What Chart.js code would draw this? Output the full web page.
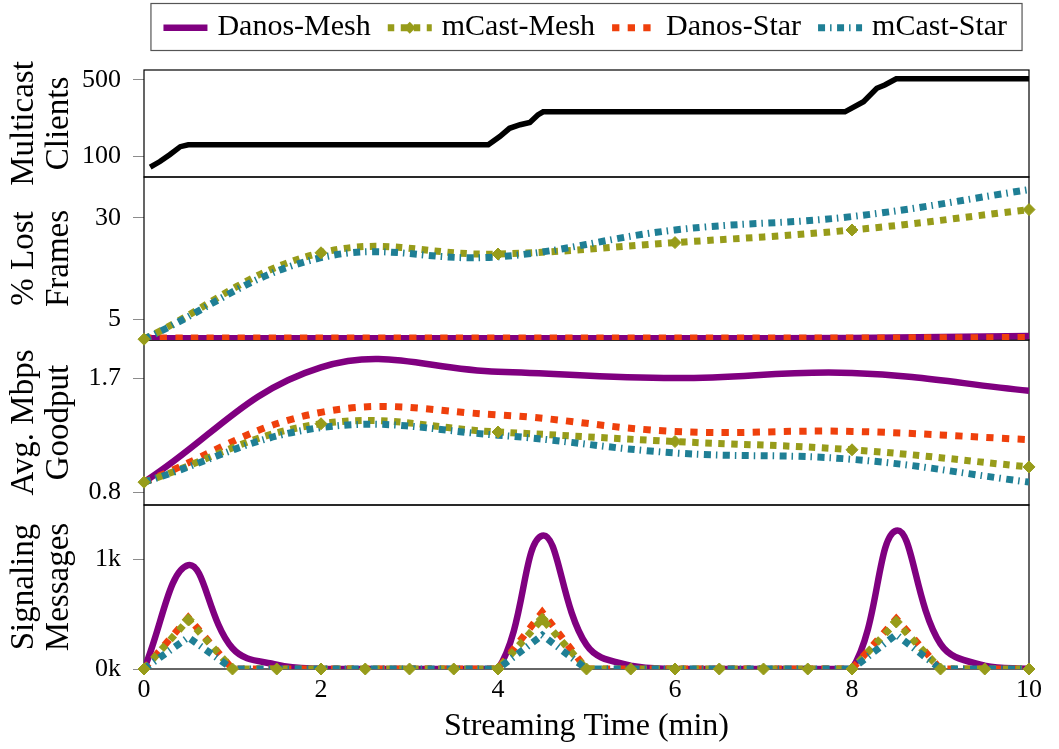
<!DOCTYPE html>
<html>
<head>
<meta charset="utf-8">
<script src="https://cdn.jsdelivr.net/npm/chart.js@4.4.0/dist/chart.umd.min.js"></script>
<style>
  html, body { margin: 0; padding: 0; background: #fff; }
</style>
</head>
<body>
<canvas id="chart" width="1059" height="749"></canvas>
<script>
// ---- data ----
var seriesNames = ["Danos-Mesh", "mCast-Mesh", "Danos-Star", "mCast-Star"];

// multicast clients (top panel, log axis)
var clientTimes  = [0.07, 0.18, 0.29, 0.41, 0.5, 3.89, 4.02, 4.13, 4.25, 4.36, 4.45, 4.51, 7.92, 8.13, 8.28, 8.37, 8.5, 10];
var clientCounts = [80, 90, 104, 123, 128, 128, 152, 181, 195, 205, 240, 256, 256, 317, 420, 450, 512, 512];

// % lost frames and goodput, sampled every 2 min
var sampleTimes = [0, 2, 4, 6, 8, 10];
var lossDanosMesh = [0.45, 0.45, 0.45, 0.45, 0.5, 1.0];
var lossMcastMesh = [0.2, 21.4, 21.1, 23.9, 27.0, 32.0];
var lossDanosStar = [0.5, 0.5, 0.5, 0.5, 0.5, 0.6];
var lossMcastStar = [0.2, 20.2, 20.4, 27.0, 30.3, 36.9];

var goodDanosMesh = [0.88, 1.785, 1.75, 1.70, 1.74, 1.60];
var goodMcastMesh = [0.88, 1.34, 1.275, 1.20, 1.135, 1.00];
var goodDanosStar = [0.88, 1.43, 1.41, 1.28, 1.28, 1.215];
var goodMcastStar = [0.88, 1.31, 1.25, 1.11, 1.06, 0.88];

// signaling messages, sampled every 30 s
var signalTimes = [0, 0.5, 1, 1.5, 2, 2.5, 3, 3.5, 4, 4.5, 5, 5.5, 6, 6.5, 7, 7.5, 8, 8.5, 9, 9.5, 10];
var sigDanosMesh = [0, 950, 190, 40, 0, 0, 0, 0, 0, 1220, 220, 30, 0, 0, 0, 0, 0, 1265, 230, 30, 0];
var sigMcastMesh = [0, 450, 0, 0, 0, 0, 0, 0, 0, 456, 0, 0, 0, 0, 0, 0, 0, 430, 0, 0, 0];
var sigDanosStar = [0, 470, 0, 0, 0, 0, 0, 0, 0, 520, 0, 0, 0, 0, 0, 0, 0, 460, 0, 0, 0];
var sigMcastStar = [0, 290, 0, 0, 0, 0, 0, 0, 0, 310, 0, 0, 0, 0, 0, 0, 0, 315, 0, 0, 0];

// tick labels
var xTicks = [0, 2, 4, 6, 8, 10];
var clientTicks = [100, 500];
var lossTicks = [5, 30];
var goodTicks = [0.8, 1.7];
var signalTicks = [0, 1000];
var signalTickLabels = ["0k", "1k"];

// ---- styling ----
var FONT = '"Liberation Serif", "Times New Roman", serif';
Chart.defaults.font.family = FONT;
Chart.defaults.color = "#000";

var styles = {
  "Danos-Mesh": { color: "#800080", width: 6.5, dash: [] },
  "mCast-Mesh": { color: "#979C1A", width: 7, dash: [6.5, 6.5] },
  "Danos-Star": { color: "#EF400C", width: 7, dash: [7.3, 8.3] },
  "mCast-Star": { color: "#1F7F95", width: 7, dash: [7, 5, 1.5, 5.5] }
};
var drawOrder = { "Danos-Mesh": 5, "Danos-Star": 4, "mCast-Mesh": 3, "mCast-Star": 2 };

function toPoints(xs, ys) {
  return xs.map(function (x, i) { return { x: x, y: ys[i] }; });
}

function series(name, xs, ys, axis, tension) {
  var st = styles[name];
  return {
    label: name,
    data: toPoints(xs, ys),
    yAxisID: axis,
    borderColor: st.color,
    backgroundColor: st.color,
    borderWidth: st.width,
    borderDash: st.dash,
    pointRadius: 0,
    pointHoverRadius: 0,
    tension: tension,
    fill: false,
    clip: 0,
    order: drawOrder[name]
  };
}

function diamonds(xs, ys, axis) {
  var c = styles["mCast-Mesh"].color;
  return {
    label: "mCast-Mesh",
    data: toPoints(xs, ys),
    yAxisID: axis,
    showLine: false,
    pointStyle: "rectRot",
    pointRadius: 6,
    pointHoverRadius: 6,
    pointBackgroundColor: c,
    pointBorderColor: c,
    pointBorderWidth: 1,
    clip: false,
    order: 1
  };
}

var datasets = [
  {
    label: "Clients",
    data: toPoints(clientTimes, clientCounts),
    yAxisID: "y1",
    borderColor: "#000",
    borderWidth: 5.5,
    pointRadius: 0,
    tension: 0,
    clip: 0,
    order: 0
  },
  series("Danos-Mesh", sampleTimes, lossDanosMesh, "y2", 0.4),
  series("mCast-Mesh", sampleTimes, lossMcastMesh, "y2", 0.4),
  series("Danos-Star", sampleTimes, lossDanosStar, "y2", 0.4),
  series("mCast-Star", sampleTimes, lossMcastStar, "y2", 0.4),
  diamonds(sampleTimes, lossMcastMesh, "y2"),

  series("Danos-Mesh", sampleTimes, goodDanosMesh, "y3", 0.4),
  series("mCast-Mesh", sampleTimes, goodMcastMesh, "y3", 0.4),
  series("Danos-Star", sampleTimes, goodDanosStar, "y3", 0.4),
  series("mCast-Star", sampleTimes, goodMcastStar, "y3", 0.4),
  diamonds(sampleTimes, goodMcastMesh, "y3"),

  series("Danos-Mesh", signalTimes, sigDanosMesh, "y4", 0.4),
  series("mCast-Mesh", signalTimes, sigMcastMesh, "y4", 0),
  series("Danos-Star", signalTimes, sigDanosStar, "y4", 0),
  series("mCast-Star", signalTimes, sigMcastStar, "y4", 0),
  diamonds(signalTimes, sigMcastMesh, "y4")
];

function fixedTicks(values) {
  return function (scale) {
    scale.ticks = values.map(function (v) { return { value: v }; });
  };
}

function panelAxis(order, heightWeight, title, tickValues, tickLabels, extra) {
  var axis = {
    type: "linear",
    position: "left",
    stack: "panels",
    stackWeight: heightWeight,
    weight: order,
    border: { display: false },
    grid: { drawOnChartArea: false, tickLength: 11, color: "#8c8c8c", lineWidth: 1 },
    ticks: {
      padding: 12,
      color: "#000",
      font: { size: 26 },
      autoSkip: false,
      callback: function (value) {
        var i = tickValues.indexOf(value);
        return i >= 0 ? tickLabels[i] : "";
      }
    },
    title: {
      display: true,
      text: title,
      color: "#000",
      font: { size: 33, lineHeight: 1.06 },
      padding: { top: 7, bottom: 0 }
    },
    afterBuildTicks: fixedTicks(tickValues),
    afterFit: function (scale) { scale.width = 144; }
  };
  return Object.assign(axis, extra);
}

// draws the box around every panel
var panelFrames = {
  id: "panelFrames",
  beforeDatasetsDraw: function (chart) {
    var ctx = chart.ctx, area = chart.chartArea;
    ctx.save();
    ctx.strokeStyle = "#000";
    ctx.lineWidth = 1.2;
    ["y1", "y2", "y3", "y4"].forEach(function (id) {
      var s = chart.scales[id];
      ctx.strokeRect(area.left, s.top, area.right - area.left, s.bottom - s.top);
    });
    ctx.restore();
  }
};

// legend in a box above the panels
var legendBox = {
  id: "legendBox",
  afterDraw: function (chart) {
    var ctx = chart.ctx, area = chart.chartArea;
    var sampleLen = 44, gapText = 10, gapItem = 17, padL = 12.5, padR = 15;
    ctx.save();
    ctx.font = "30px " + FONT;
    var widths = seriesNames.map(function (n) { return ctx.measureText(n).width; });
    var total = padL + padR + seriesNames.length * (sampleLen + gapText) + (seriesNames.length - 1) * gapItem;
    widths.forEach(function (w) { total += w; });
    var left = (area.left + area.right) / 2 - total / 2;
    ctx.strokeStyle = "#555";
    ctx.lineWidth = 1.2;
    ctx.strokeRect(left, 3.5, total, 47);

    var x = left + padL, lineY = 27.7;
    seriesNames.forEach(function (name, i) {
      var st = styles[name];
      ctx.beginPath();
      ctx.setLineDash(st.dash);
      ctx.lineWidth = st.width;
      ctx.strokeStyle = st.color;
      ctx.moveTo(x, lineY);
      ctx.lineTo(x + sampleLen, lineY);
      ctx.stroke();
      ctx.setLineDash([]);
      if (name === "mCast-Mesh") {
        var cx = x + sampleLen / 2, r = 6;
        ctx.beginPath();
        ctx.moveTo(cx - r, lineY);
        ctx.lineTo(cx, lineY - r);
        ctx.lineTo(cx + r, lineY);
        ctx.lineTo(cx, lineY + r);
        ctx.closePath();
        ctx.fillStyle = st.color;
        ctx.fill();
      }
      x += sampleLen + gapText;
      ctx.fillStyle = "#000";
      ctx.textBaseline = "alphabetic";
      ctx.textAlign = "left";
      ctx.fillText(name, x, 35);
      x += widths[i] + gapItem;
    });
    ctx.restore();
  }
};

new Chart(document.getElementById("chart").getContext("2d"), {
  type: "line",
  data: { datasets: datasets },
  options: {
    responsive: false,
    animation: false,
    events: [],
    layout: { padding: { top: 70, right: 30, bottom: 0, left: 0 } },
    plugins: { legend: { display: false }, tooltip: { enabled: false } },
    scales: {
      x: {
        type: "linear",
        position: "bottom",
        min: 0,
        max: 10,
        border: { display: false },
        grid: { display: false, drawTicks: false },
        ticks: {
          padding: 6,
          font: { size: 26 },
          autoSkip: false,
          maxRotation: 0,
          callback: function (v) { return String(v); }
        },
        title: {
          display: true,
          text: "Streaming Time (min)",
          font: { size: 32 },
          padding: { top: 0, bottom: 3 }
        },
        afterBuildTicks: fixedTicks(xTicks),
        afterFit: function (scale) { scale.height = 80; }
      },
      y1: panelAxis(4, 107, ["Multicast", "Clients"], clientTicks, ["100", "500"],
        { type: "logarithmic", min: 65, max: 617 }),
      y2: panelAxis(3, 163, ["% Lost", "Frames"], lossTicks, ["5", "30"],
        { min: 0, max: 40 }),
      y3: panelAxis(2, 165, ["Avg. Mbps", "Goodput"], goodTicks, ["0.8", "1.7"],
        { min: 0.7, max: 2.0 }),
      y4: panelAxis(1, 164, ["Signaling", "Messages"], signalTicks, signalTickLabels,
        { min: 0, max: 1500 })
    }
  },
  plugins: [panelFrames, legendBox]
});
</script>
</body>
</html>
